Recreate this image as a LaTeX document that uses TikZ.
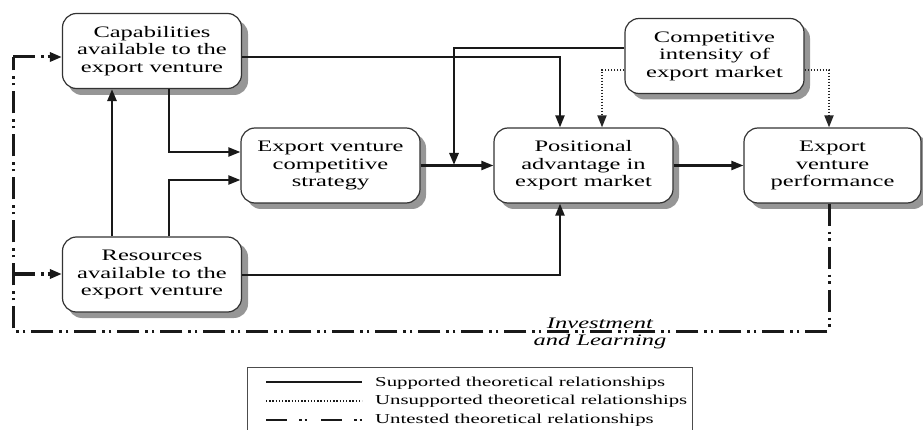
\documentclass[tikz,border=0pt]{standalone}
\usepackage{fontspec}
\setmainfont{Liberation Serif}[FakeStretch=1.53]
\usetikzlibrary{arrows.meta}

\definecolor{shadowgray}{RGB}{150,150,150}
\tikzset{
  box/.style={draw=black!80, line width=1.2pt, rounded corners=14pt, fill=white,
    minimum width=179pt, minimum height=75pt, align=center, inner sep=2pt,
    font=\fontsize{16}{17.5}\selectfont},
  boxshadow/.style={fill=shadowgray, rounded corners=14pt},
  tip/.style={-{Triangle[length=12pt,width=9pt]}},
  sup/.style={tip, line width=2.1pt, black!90},
  supthick/.style={tip, line width=2.8pt, black!90},
  unsup/.style={tip, line width=1.9pt, black!85, dash pattern=on 1.5pt off 1.5pt},
  untested/.style={line width=3pt, black!90,
    dash pattern=on 22pt off 6pt on 2.5pt off 4pt on 2.5pt off 6pt},
  legline/.style={line width=2pt, black!90},
  legtext/.style={anchor=west, font=\fontsize{13.6}{17.5}\selectfont, inner sep=0pt}
}

\begin{document}
\begin{tikzpicture}[x=1pt, y=-1pt]
\useasboundingbox (0,0) rectangle (923,430);

% drop shadows, drawn first so the boxes sit on top of them
\path[boxshadow] (68,20) rectangle (248,95);
\path[boxshadow] (68,243) rectangle (248,318);
\path[boxshadow] (247,134) rectangle (426,209);
\path[boxshadow] (500,134) rectangle (679,209);
\path[boxshadow] (631,24.5) rectangle (810,99.5);
\path[boxshadow] (750,134) rectangle (927,209);

% constructs
\node[box] (cap)  at (152,51)      {Capabilities\\available to the\\export venture};
\node[box] (res)  at (152,274.5)   {Resources\\available to the\\export venture};
\node[box] (str)  at (330.5,165.5) {Export venture\\competitive\\strategy};
\node[box] (pos)  at (583.5,165.5) {Positional\\advantage in\\export market};
\node[box] (comp) at (714.5,56)    {Competitive\\intensity of\\export market};
\node[box, minimum width=177pt] (perf) at (832.5,165.5) {Export\\venture\\performance};

% moderation target on the strategy -> advantage link
\coordinate (mod) at (454,165);

% supported relationships
\draw[sup] ([yshift=-6pt]cap.east) -| ([xshift=-23.5pt]pos.north);
\draw[supthick] ([yshift=8pt]comp.west) -| (mod);
\draw[sup] (str.east) -- (str.east -| pos.west);
\draw[sup] (pos.east) -- (pos.east -| perf.west);
\draw[sup] ([xshift=17pt]cap.south) |- ([yshift=13.5pt]str.west);
\draw[sup] ([xshift=17pt]res.north) |- ([yshift=-14.5pt]str.west);
\draw[supthick] ([xshift=-40pt]res.north) -- ([xshift=-40pt]cap.south);
\draw[sup] ([yshift=-0.5pt]res.east) -| ([xshift=-23.5pt]pos.south);

% unsupported relationships
\draw[unsup] ([yshift=-14pt]comp.west) -| ([xshift=18.5pt]pos.north);
\draw[unsup] ([yshift=-14pt]comp.east) -| ([xshift=-3.5pt]perf.north);

% untested feedback loop
\coordinate (fbR) at (829,331);
\coordinate (fbL) at (13,331);
\coordinate (fbT) at (13,57);
\coordinate (fbM) at (13,274);
\draw[untested] ([xshift=-3.5pt]perf.south) -- (fbR) -- (fbL) -- (fbT);
\draw[untested, tip] (fbT) -- ([yshift=-6pt]cap.west);
\draw[untested, tip] (fbM) -- (fbM -| res.west);

\node[align=center, inner sep=0pt, font=\fontsize{16}{17}\selectfont\itshape] (lbl) at (600,333.5)
  {Investment\\and Learning};

% legend
\node[draw=black!70, line width=1.2pt, minimum width=445pt, minimum height=80pt,
  anchor=north west, inner sep=0pt] (leg) at (247,367) {};
\coordinate (l1a) at (266,382); \coordinate (l1b) at (362,382);
\coordinate (l2a) at (266,401); \coordinate (l2b) at (362,401);
\coordinate (l3a) at (266,420); \coordinate (l3b) at (362,420);
\draw[legline] (l1a) -- (l1b);
\draw[legline, line width=1.4pt, dash pattern=on 1.3pt off 1.9pt] (l2a) -- (l2b);
\draw[legline, line width=2.4pt, dash pattern=on 21pt off 12pt on 2.5pt off 3pt on 2.5pt off 14pt] (l3a) -- (l3b);
\node[legtext] (t1) at (375,383) {Supported theoretical relationships};
\node[legtext] (t2) at (375,401.5) {Unsupported theoretical relationships};
\node[legtext] (t3) at (375,420) {Untested theoretical relationships};
\end{tikzpicture}
\end{document}
